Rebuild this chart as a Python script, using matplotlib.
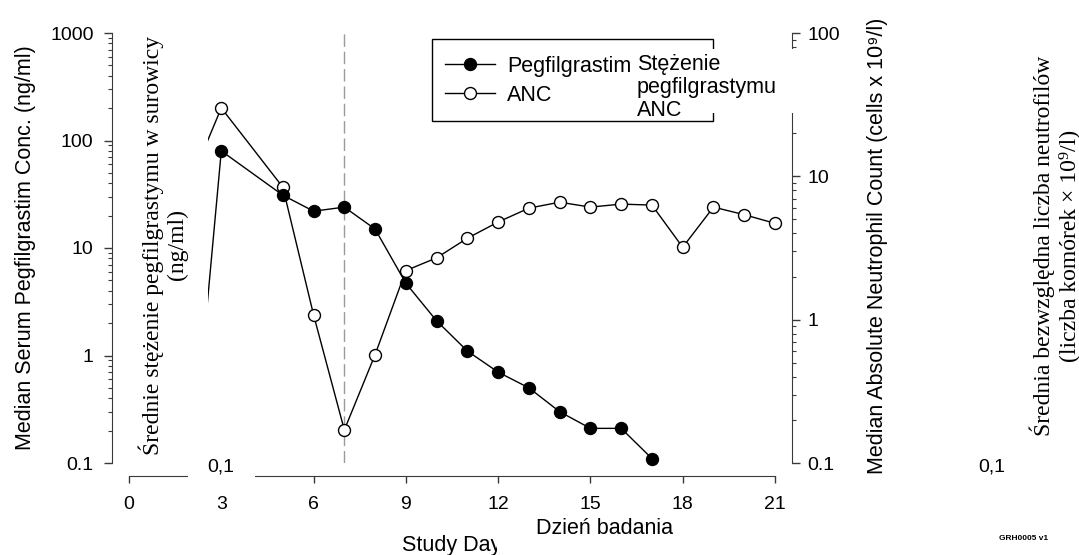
import matplotlib
matplotlib.use('Agg')
import matplotlib.pyplot as plt
from matplotlib.patches import Rectangle
from matplotlib.lines import Line2D
from matplotlib.ticker import NullFormatter, FixedLocator, FixedFormatter

# Data
peg_days = [2, 3, 5, 6, 7, 8, 9, 10, 11, 12, 13, 14, 15, 16, 17]
peg_conc = [0.06, 80, 31, 22, 24, 15, 4.7, 2.1, 1.1, 0.7, 0.5, 0.3, 0.21, 0.21, 0.11]
anc_days = [2, 3, 5, 6, 7, 8, 9, 10, 11, 12, 13, 14, 15, 16, 17, 18, 19, 20, 21]
anc_vals = [9.2, 30, 8.4, 1.08, 0.17, 0.57, 2.2, 2.7, 3.7, 4.8, 6.0, 6.6, 6.1, 6.4, 6.3, 3.2, 6.1, 5.4, 4.7]
x_ticks = [0, 3, 6, 9, 12, 15, 18, 21]
left_ticks = [0.1, 1, 10, 100, 1000]
left_labels = ['0.1', '1', '10', '100', '1000']
right_ticks = [0.1, 1, 10, 100]
right_labels = ['0.1', '1', '10', '100']
marker_day = 7

W, H = 1079, 555
SANS = ['Liberation Sans', 'DejaVu Sans']
SERIF = ['Liberation Serif', 'DejaVu Serif']
plt.rcParams['font.family'] = SANS
axcol = '#3a3a3a'

fig = plt.figure(figsize=(W / 100, H / 100), dpi=100)
fig.patch.set_facecolor('white')

# main axes (pixel box 112..792 x 33..463)
ax = fig.add_axes([112 / W, (H - 463) / H, 680 / W, 430 / H])
ax2 = ax.twinx()

ax.set_xlim(-0.553, 21.553)
ax.set_yscale('log')
ax.set_ylim(0.1, 1000)
ax2.set_yscale('log')
ax2.set_ylim(0.1, 100)

# dashed line + ANC on the lower axes, pegfilgrastim on top
ax2.axvline(marker_day, color='#9a9a9a', lw=1.0, dashes=(9, 3.5), zorder=1)
ax2.plot(anc_days, anc_vals, '-', color='k', lw=1.0, zorder=2)
ax2.plot(anc_days, anc_vals, 'o', ms=8.6, mfc='white', mec='k', mew=1.0,
         clip_on=False, zorder=3)
ax.plot(peg_days, peg_conc, '-', color='k', lw=1.0, zorder=2)
ax.plot(peg_days[1:], peg_conc[1:], 'o', ms=8.6, mfc='k', mec='k', mew=1.0,
        clip_on=False, zorder=3)
ax.set_zorder(ax2.get_zorder() + 1)
ax.patch.set_visible(False)

# spines
for s in ['top', 'right']:
    ax.spines[s].set_visible(False)
for s in ['top', 'left', 'bottom']:
    ax2.spines[s].set_visible(False)
ax.spines['left'].set_color(axcol)
ax2.spines['right'].set_color(axcol)
ax.spines['bottom'].set_color(axcol)
ax.spines['bottom'].set_position(('outward', 9.4))
ax.spines['bottom'].set_bounds(0, 21)

# ticks
ax.xaxis.set_major_locator(FixedLocator(x_ticks))
ax.set_xticklabels([str(v) for v in x_ticks])
ax.tick_params(axis='x', length=5, width=1, color=axcol, pad=9.5, labelsize=14)
ax.yaxis.set_major_locator(FixedLocator(left_ticks))
ax.yaxis.set_major_formatter(FixedFormatter(left_labels))
ax.yaxis.set_minor_formatter(NullFormatter())
ax.tick_params(axis='y', which='major', length=5.8, width=1, color=axcol, pad=7.5, labelsize=14)
ax.tick_params(axis='y', which='minor', length=3, width=0.8, color=axcol)
ax2.yaxis.set_major_locator(FixedLocator(right_ticks))
ax2.yaxis.set_major_formatter(FixedFormatter(right_labels))
ax2.yaxis.set_minor_formatter(NullFormatter())
ax2.tick_params(axis='y', which='major', length=5.8, width=1, color=axcol, pad=5.5, labelsize=14)
ax2.tick_params(axis='y', which='minor', length=3, width=0.8, color=axcol)

# English axis titles
ax.set_ylabel('Median Serum Pegfilgrastim Conc. (ng/ml)', fontsize=15.5, va='center')
ax.yaxis.set_label_coords((26 - 112) / 680, (463 - 248) / 430)
ax2.set_ylabel('Median Absolute Neutrophil Count (cells x 10\u2079/l)', fontsize=15.5,
               va='center', rotation=90)
ax2.yaxis.set_label_coords((877 - 112) / 680, (463 - 246) / 430)
ax.set_xlabel('Study Day', fontsize=15.5, va='center')
ax.xaxis.set_label_coords((452 - 112) / 680, (463 - 546) / 430)

# overlay in pixel coordinates: white patches with Polish text
ov = fig.add_axes([0, 0, 1, 1])
ov.set_xlim(0, W)
ov.set_ylim(H, 0)
ov.axis('off')
ov.patch.set_visible(False)
ov.set_zorder(10)

# legend frame
ov.add_patch(Rectangle((432, 39), 281, 82, facecolor='white', edgecolor='black', lw=1.0))
ov.add_line(Line2D([445, 495], [64, 64], color='k', lw=1.0))
ov.plot([470], [64], 'o', ms=8.6, mfc='k', mec='k')
ov.add_line(Line2D([445, 495], [93, 93], color='k', lw=1.0))
ov.plot([470], [93], 'o', ms=8.6, mfc='white', mec='k', mew=1.0)
ov.text(507, 64, 'Pegfilgrastim', fontsize=15.5, ha='left', va='center_baseline')
ov.text(507, 93, 'ANC', fontsize=15.5, ha='left', va='center_baseline')

# white boxes
boxes = [(131, 20, 77, 451), (188, 452, 67, 40), (634, 49, 168, 64), (497, 514, 223, 41)]
for bx, by, bw, bh in boxes:
    ov.add_patch(Rectangle((bx, by), bw, bh, facecolor='white', edgecolor='none'))

ov.text(163, 245, 'Średnie stężenie pegfilgrastymu w surowicy\n(ng/ml)', rotation=90,
        ha='center', va='center', multialignment='center', family=SERIF, fontsize=17)
ov.text(1055, 246, 'Średnia bezwzględna liczba neutrofilów\n(liczba komórek \u00d7 10\u2079/l)',
        rotation=90, ha='center', va='center', multialignment='center', family=SERIF, fontsize=17)
ov.text(221, 467, '0,1', fontsize=14, ha='center', va='center')
ov.text(992, 467, '0,1', fontsize=14, ha='center', va='center')
for txt, yy in [('Stężenie', 62), ('pegfilgrastymu', 85), ('ANC', 108)]:
    ov.text(637, yy, txt, fontsize=15.5, ha='left', va='center_baseline')
ov.text(605, 529, 'Dzień badania', fontsize=15.5, ha='center', va='center')
ov.text(1024, 538, 'GRH0005 v1', fontsize=6, fontweight='bold', ha='center', va='center')

fig.savefig('out.png', dpi=100)
